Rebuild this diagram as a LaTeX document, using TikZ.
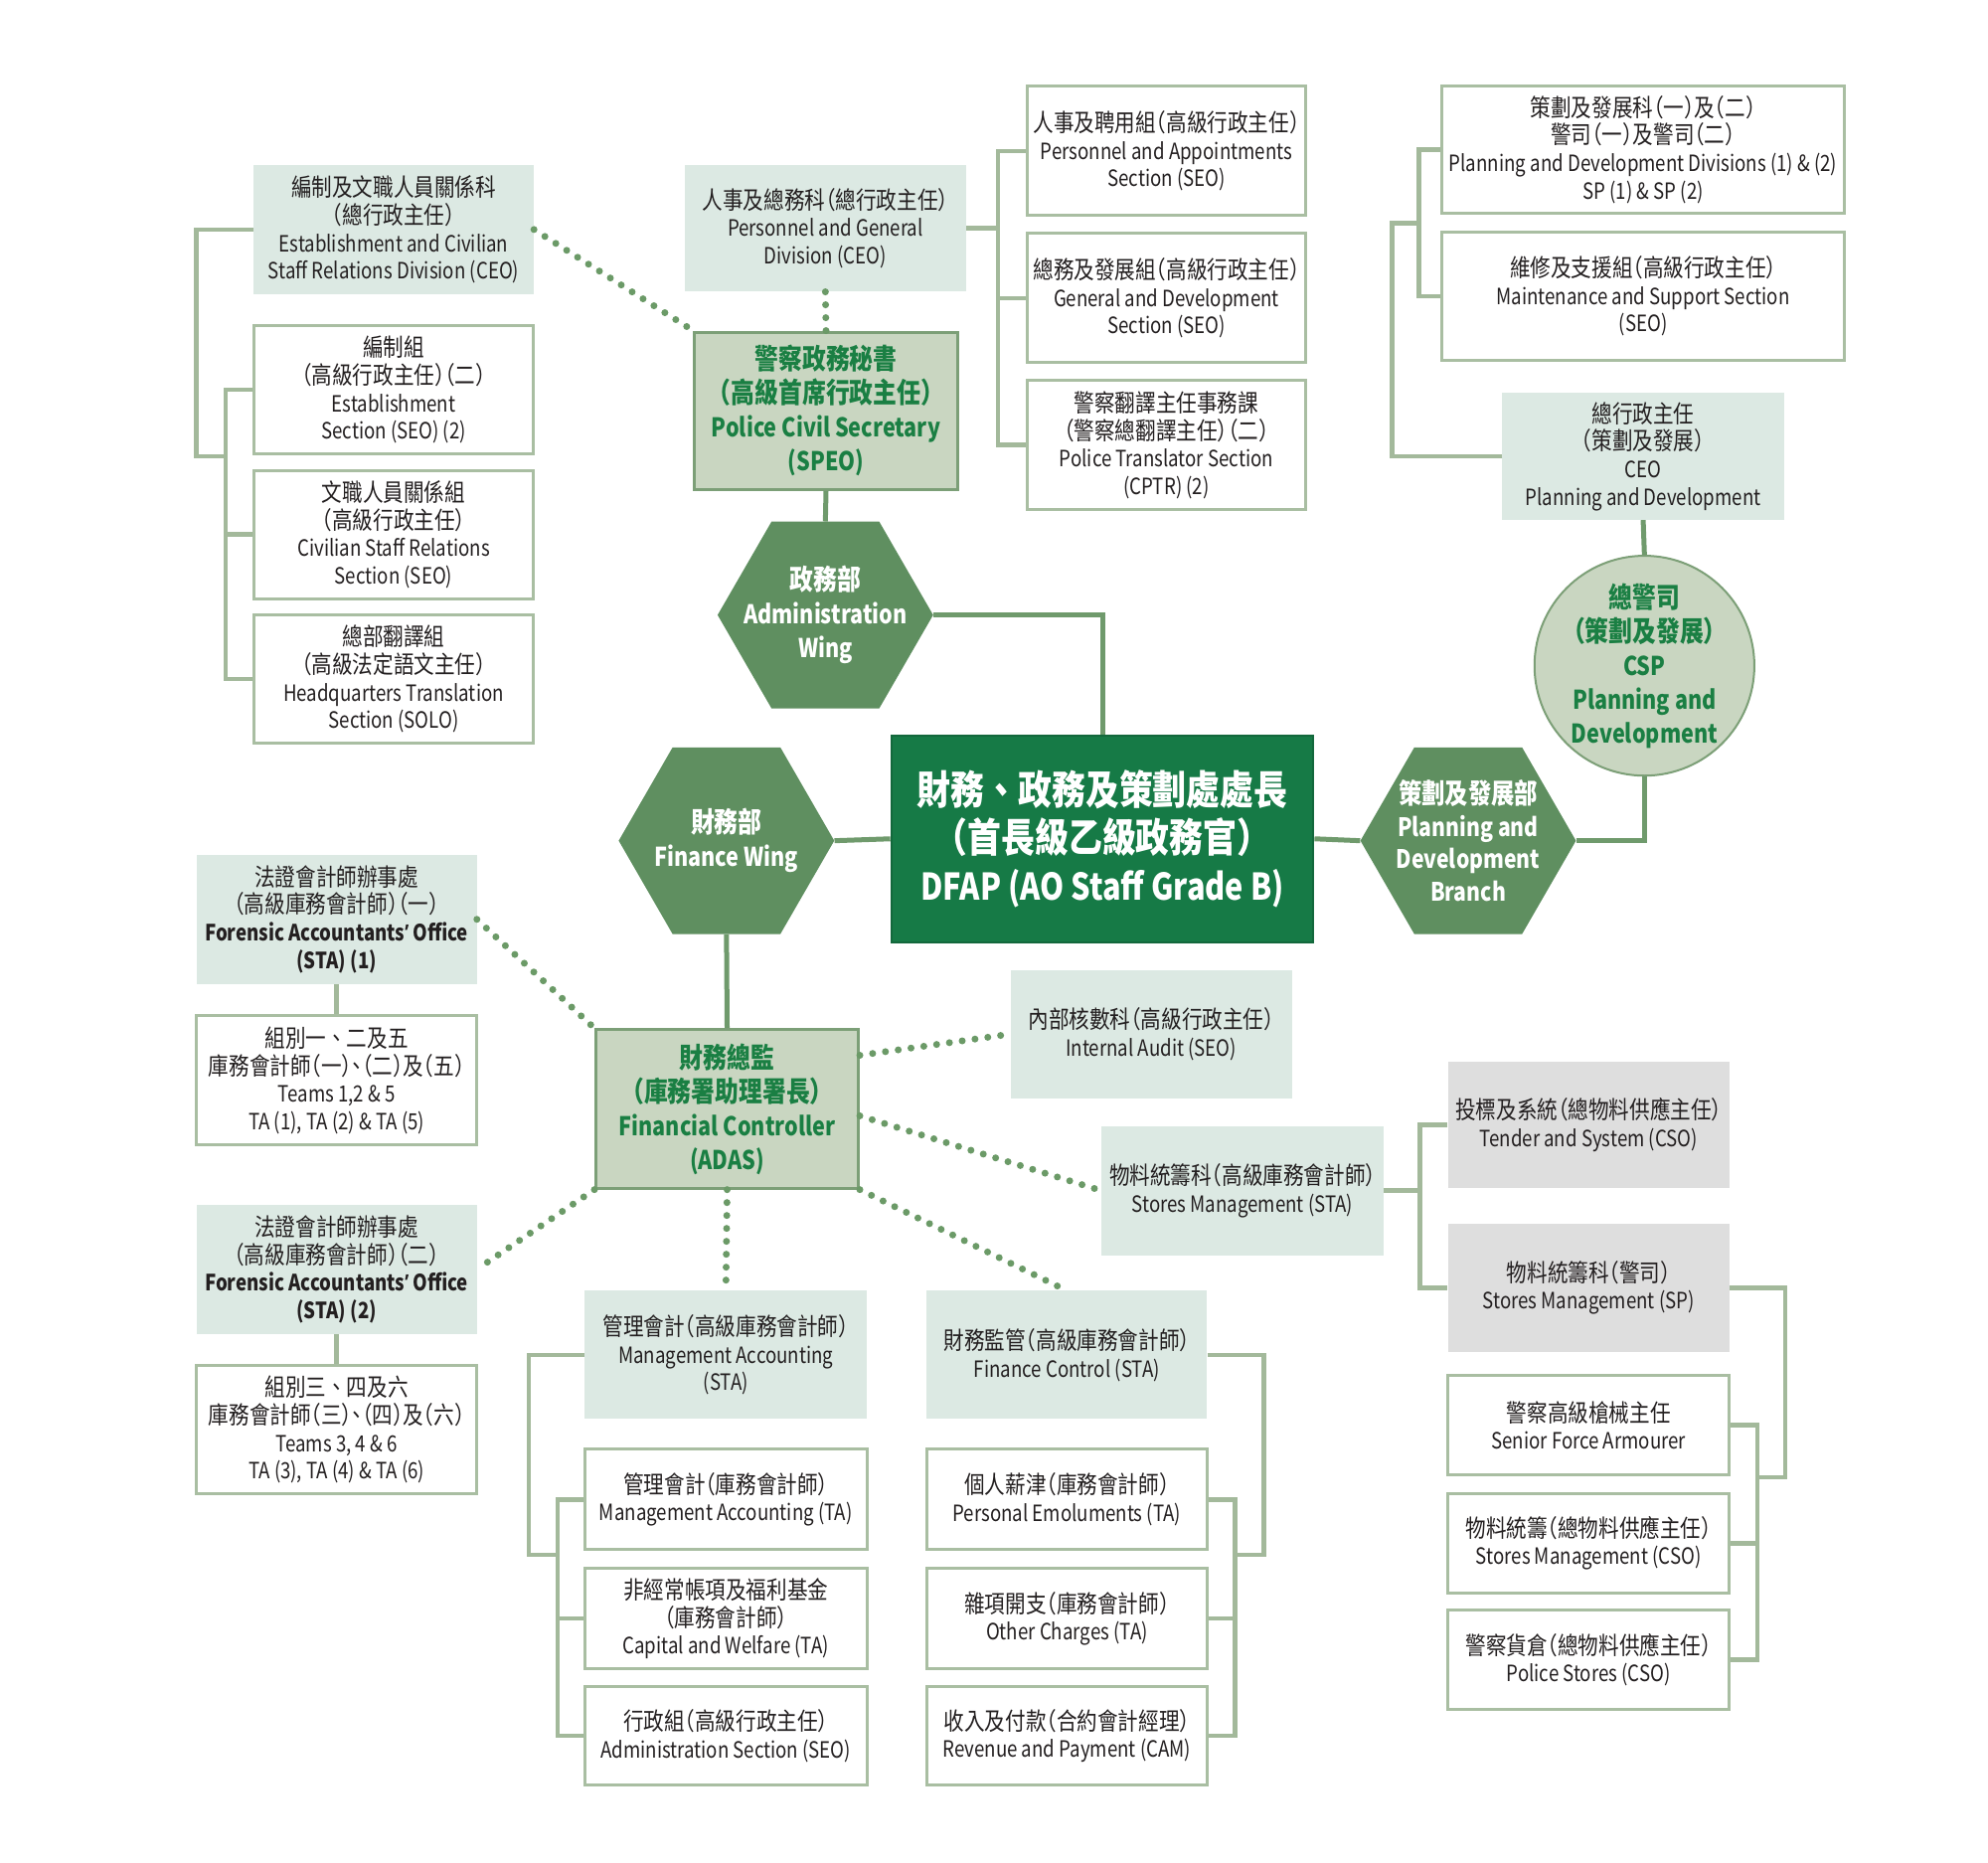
\documentclass[tikz,border=0pt]{standalone}
\usepackage{fontspec}
\setmainfont{Noto Sans CJK TC}[FakeStretch=0.83]
\newfontfamily\cjkfont{Noto Sans CJK TC}[Scale=1.09, FakeStretch=0.84, RawFeature=+halt]
\newfontfamily\cjkfull{Noto Sans CJK TC}[Scale=1.09, FakeStretch=0.84]
\newfontfamily\apfont{Open Sans}[FakeStretch=0.83]
\newcommand\zt[1]{{\cjkfont #1}}
\newcommand\dun{{\cjkfull 、}}
\newcommand\apos{{\apfont ’}}
\usetikzlibrary{shapes.geometric}
\definecolor{tealfill}{HTML}{DCE9E3}
\definecolor{sagefill}{HTML}{C9D6C1}
\definecolor{sageborder}{HTML}{7C9F77}
\definecolor{hexfill}{HTML}{5F8F60}
\definecolor{darkgreen}{HTML}{167A46}
\definecolor{greentext}{HTML}{1A7F43}
\definecolor{bracketcol}{HTML}{A3B99B}
\definecolor{boxborder}{HTML}{A9BEA2}
\definecolor{conncol}{HTML}{6F9A6C}
\definecolor{dotcol}{HTML}{6B9A67}
\definecolor{greyfill}{HTML}{DEDEDE}
\definecolor{textcol}{HTML}{231F20}
\tikzset{
  bsize/.style 2 args={minimum width=#1*1.2755pt, minimum height=#2*1.2755pt},
  basebox/.style={rectangle, inner sep=0pt, align=center, text=textcol,
     font={\fontsize{22.5pt}{27.7pt}\selectfont}},
  tealbox/.style={basebox, fill=tealfill},
  whitebox/.style={basebox, fill=white, draw=boxborder, line width=3pt},
  greybox/.style={basebox, fill=greyfill},
  sagebox/.style={basebox, fill=sagefill, draw=sageborder, line width=3pt, text=greentext,
     font={\bfseries\fontsize{26pt}{34pt}\selectfont}},
  hexa/.style={regular polygon, regular polygon sides=6, minimum size=170*1.2755pt,
     inner sep=0pt, fill=hexfill},
  hextext/.style={align=center, text=white, inner sep=0pt,
     font={\bfseries\fontsize{26pt}{34pt}\selectfont}},
  br/.style={draw=bracketcol, line width=4.5pt},
  conn/.style={draw=conncol, line width=5pt},
  dots/.style={draw=dotcol, line width=7pt, line cap=round, dash pattern=on 0pt off 13pt},
}
\begin{document}
\begin{tikzpicture}[x=1.2755pt, y=-1.2755pt]
\useasboundingbox (0,0) rectangle (1568,1469);

% ---------- left column (administration) ----------
\node[tealbox, bsize={221}{102}] (A1) at (310.5,181)
  {\zt{編制及文職人員關係科}\\\zt{（總行政主任）}\\Establishment and Civilian\\Staff Relations Division (CEO)};
\node[whitebox, bsize={221}{101}] (A2) at (310.5,307.5)
  {\zt{編制組}\\\zt{（高級行政主任）（二）}\\Establishment\\Section (SEO) (2)};
\node[whitebox, bsize={221}{101}] (A3) at (310.5,421.5)
  {\zt{文職人員關係組}\\\zt{（高級行政主任）}\\Civilian Staff Relations\\Section (SEO)};
\node[whitebox, bsize={221}{101}] (A4) at (310.5,535.5)
  {\zt{總部翻譯組}\\\zt{（高級法定語文主任）}\\Headquarters Translation\\Section (SOLO)};
\coordinate (jA) at (178,360);
\draw[br] (A1.west) -| (155,360) -- (jA);
\draw[br] (A2.west) -| (jA) |- (A4.west);
\draw[br] (A3.west) -- (A3.west -| jA);

% ---------- personnel and general ----------
\node[tealbox, bsize={222}{100}] (PG) at (651,180)
  {\zt{人事及總務科（總行政主任）}\\Personnel and General\\Division (CEO)};
\node[sagebox, bsize={207}{124}] (SPEO) at (651.5,324)
  {\zt{警察政務秘書}\\\zt{（高級首席行政主任）}\\Police Civil Secretary\\(SPEO)};
\node[whitebox, bsize={220}{102}] (B1) at (920,119)
  {\zt{人事及聘用組（高級行政主任）}\\Personnel and Appointments\\Section (SEO)};
\node[whitebox, bsize={220}{102}] (B2) at (920,235)
  {\zt{總務及發展組（高級行政主任）}\\General and Development\\Section (SEO)};
\node[whitebox, bsize={220}{102}] (B3) at (920,351)
  {\zt{警察翻譯主任事務課}\\\zt{（警察總翻譯主任）（二）}\\Police Translator Section\\(CPTR) (2)};
\coordinate (jB) at (787,180);
\draw[br] (PG.east) -- (jB);
\draw[br] (B1.west) -| (jB) |- (B3.west);
\draw[br] (B2.west) -- (B2.west -| jB);

% ---------- planning and development (top right) ----------
\node[whitebox, bsize={318}{100}] (C1) at (1296,118)
  {\zt{策劃及發展科（一）及（二）}\\\zt{警司（一）及警司（二）}\\Planning and Development Divisions (1) \& (2)\\SP (1) \& SP (2)};
\node[whitebox, bsize={318}{101}] (C2) at (1296,233.5)
  {\zt{維修及支援組（高級行政主任）}\\Maintenance and Support Section\\(SEO)};
\node[tealbox, bsize={222}{100}] (CEO) at (1296,360)
  {\zt{總行政主任}\\\zt{（策劃及發展）}\\CEO\\Planning and Development};
\coordinate (jC) at (1119,176);
\draw[br] (CEO.west) -| (1098,176) -- (jC);
\draw[br] (C1.west) -| (jC) |- (C2.west);

\node[circle, fill=sagefill, draw=sageborder, line width=2pt, minimum size=172*1.2755pt,
      inner sep=0pt, align=center, text=greentext,
      font={\bfseries\fontsize{26pt}{34pt}\selectfont}] (CSP) at (1297,525)
  {\zt{總警司}\\\zt{（策劃及發展）}\\CSP\\Planning and\\Development};

% ---------- centre ----------
\node[rectangle, fill=darkgreen, draw=darkgreen!85!black, line width=2pt, bsize={333}{163},
      align=center, text=white, inner sep=0pt,
      font={\bfseries\fontsize{37pt}{48pt}\selectfont}] (DFAP) at (869.5,661.5)
  {\zt{財務}\dun\zt{政務及策劃處處長}\\\zt{（首長級乙級政務官）}\\DFAP (AO Staff Grade B)};

\node[hexa] (adm) at (651,485) {};
\node[hextext] (admt) at (adm) {\zt{政務部}\\Administration\\Wing};
\node[hexa] (fin) at (573,663) {};
\node[hextext] (fint) at (fin) {\zt{財務部}\\Finance Wing};
\node[hexa] (pd) at (1158,663) {};
\node[hextext, font={\bfseries\fontsize{25.5pt}{32.5pt}\selectfont}] (pdt) at (pd)
  {\zt{策劃及發展部}\\Planning and\\Development\\Branch};

\draw[conn] (SPEO.south) -- (adm.north);
\draw[conn] (adm.east) -| (DFAP.north);
\draw[conn] (fin.east) -- (DFAP.west);
\draw[conn] (DFAP.east) -- (pd.west);
\draw[conn] (pd.east) -| (CSP.south);
\draw[conn] (CSP.north) -- (CEO.south);

\node[sagebox, bsize={207}{125}] (FC) at (573.5,874.5)
  {\zt{財務總監}\\\zt{（庫務署助理署長）}\\Financial Controller\\(ADAS)};
\draw[conn] (fin.south) -- (FC.north);

% ---------- forensic accountants ----------
\node[tealbox, bsize={221}{102}] (F1) at (265.5,725)
  {\zt{法證會計師辦事處}\\\zt{（高級庫務會計師）（一）}\\\textbf{Forensic Accountants\apos{} Office}\\\textbf{(STA) (1)}};
\node[whitebox, bsize={221}{102}] (F1T) at (265.5,852)
  {\zt{組別一}\dun\zt{二及五}\\\zt{庫務會計師（一）、（二）及（五）}\\Teams 1,2 \& 5\\TA (1), TA (2) \& TA (5)};
\node[tealbox, bsize={221}{102}] (F2) at (265.5,1001)
  {\zt{法證會計師辦事處}\\\zt{（高級庫務會計師）（二）}\\\textbf{Forensic Accountants\apos{} Office}\\\textbf{(STA) (2)}};
\node[whitebox, bsize={221}{101}] (F2T) at (265.5,1127.5)
  {\zt{組別三}\dun\zt{四及六}\\\zt{庫務會計師（三）、（四）及（六）}\\Teams 3, 4 \& 6\\TA (3), TA (4) \& TA (6)};
\draw[br] (F1.south) -- (F1T.north);
\draw[br] (F2.south) -- (F2T.north);

% ---------- internal audit & stores ----------
\node[tealbox, bsize={222}{101}] (IA) at (908,815.5)
  {\zt{內部核數科（高級行政主任）}\\Internal Audit (SEO)};
\node[tealbox, bsize={222}{102}] (SMSTA) at (980,939)
  {\zt{物料統籌科（高級庫務會計師）}\\Stores Management (STA)};
\node[greybox, bsize={222}{100}] (TS) at (1253,887)
  {\zt{投標及系統（總物料供應主任）}\\Tender and System (CSO)};
\node[greybox, bsize={222}{101}] (SMSP) at (1253,1015.5)
  {\zt{物料統籌科（警司）}\\Stores Management (SP)};
\node[whitebox, bsize={222}{78}] (S1) at (1253,1124)
  {\zt{警察高級槍械主任}\\Senior Force Armourer};
\node[whitebox, bsize={222}{78}] (S2) at (1253,1217)
  {\zt{物料統籌（總物料供應主任）}\\Stores Management (CSO)};
\node[whitebox, bsize={222}{78}] (S3) at (1253,1309)
  {\zt{警察貨倉（總物料供應主任）}\\Police Stores (CSO)};
\coordinate (jS) at (1120,939);
\draw[br] (SMSTA.east) -- (jS);
\draw[br] (TS.west) -| (jS) |- (SMSP.west);
\coordinate (jP) at (1386,1165);
\draw[br] (SMSP.east) -| (1408,1165) -- (jP);
\draw[br] (S1.east) -| (jP) |- (S3.east);
\draw[br] (S2.east) -- (S2.east -| jP);

% ---------- management accounting ----------
\node[tealbox, bsize={223}{101}] (MA) at (572.5,1068.5)
  {\zt{管理會計（高級庫務會計師）}\\Management Accounting\\(STA)};
\node[whitebox, bsize={223}{79}] (M1) at (572.5,1182.5)
  {\zt{管理會計（庫務會計師）}\\Management Accounting (TA)};
\node[whitebox, bsize={223}{79}] (M2) at (572.5,1276.5)
  {\zt{非經常帳項及福利基金}\\\zt{（庫務會計師）}\\Capital and Welfare (TA)};
\node[whitebox, bsize={223}{78}] (M3) at (572.5,1369)
  {\zt{行政組（高級行政主任）}\\Administration Section (SEO)};
\coordinate (jM) at (440,1226);
\draw[br] (MA.west) -| (417,1226) -- (jM);
\draw[br] (M1.west) -| (jM) |- (M3.west);
\draw[br] (M2.west) -- (M2.west -| jM);

% ---------- finance control ----------
\node[tealbox, bsize={221}{101}] (FCtrl) at (841.5,1068.5)
  {\zt{財務監管（高級庫務會計師）}\\Finance Control (STA)};
\node[whitebox, bsize={221}{79}] (P1) at (841.5,1182.5)
  {\zt{個人薪津（庫務會計師）}\\Personal Emoluments (TA)};
\node[whitebox, bsize={221}{79}] (P2) at (841.5,1276.5)
  {\zt{雜項開支（庫務會計師）}\\Other Charges (TA)};
\node[whitebox, bsize={221}{78}] (P3) at (841.5,1369)
  {\zt{收入及付款（合約會計經理）}\\Revenue and Payment (CAM)};
\coordinate (jF) at (974,1226);
\draw[br] (FCtrl.east) -| (997,1226) -- (jF);
\draw[br] (P1.east) -| (jF) |- (P3.east);
\draw[br] (P2.east) -- (P2.east -| jF);

% ---------- dotted links ----------
\draw[dots] (A1.east) -- (SPEO.north west);
\draw[dots] (PG.south) -- (SPEO.north);
\draw[dots] (F1.east) -- (FC.north west);
\draw[dots] (FC.south west) -- (F2.east);
\draw[dots] (FC.22) -- (IA.west);
\draw[dots] (FC.-3) -- (SMSTA.west);
\draw[dots] (FC.south east) -- (FCtrl.north);
\draw[dots] (FC.south) -- (MA.north);
\end{tikzpicture}
\end{document}
